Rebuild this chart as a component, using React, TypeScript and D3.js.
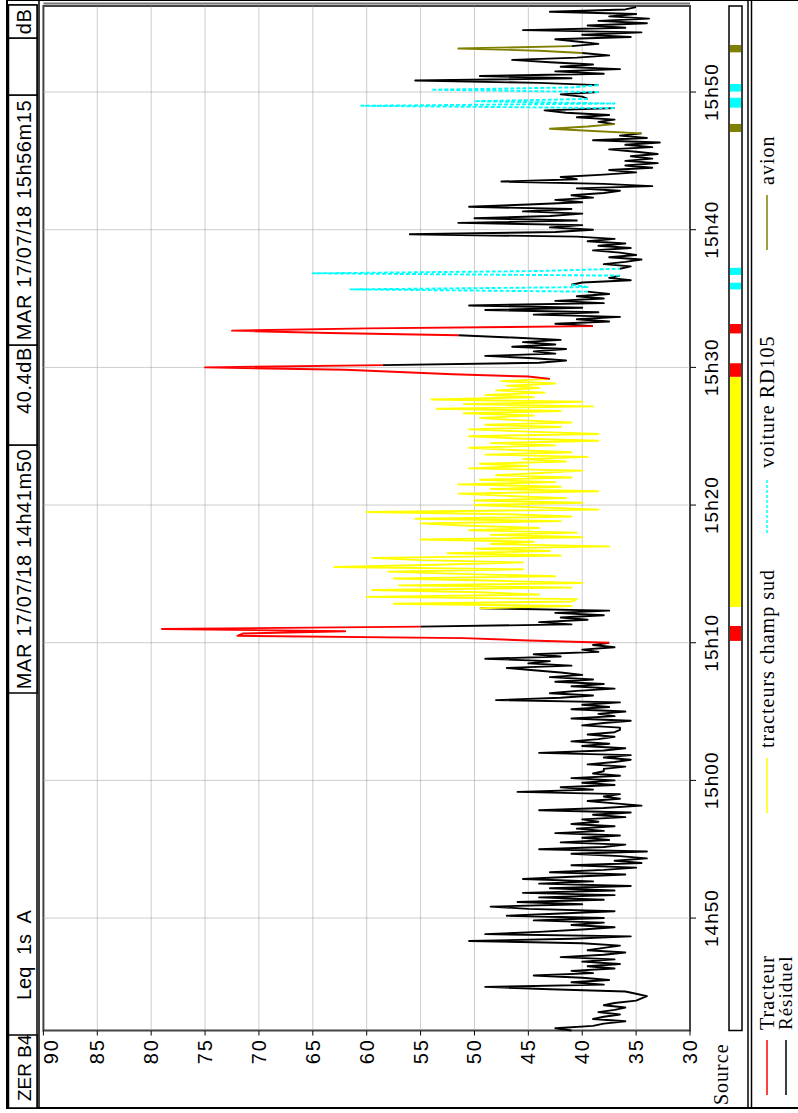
import React from 'react';
import * as d3 from 'd3';

// Leq 1s A, one value every 10 s from 14h41m50
const startTime = '14:41:50';
const endTime = '15:56:15';
const stepSeconds = 10;

const leq: number[] = [
	41, 42.5, 39, 38, 36, 39,
	38, 36.5, 38.5, 37, 36, 38,
	37, 35, 34.5, 34, 35, 36,
	43, 49, 38, 41, 37.5, 40,
	44.5, 39, 41, 37, 39.5, 36.5,
	40, 37, 42, 38, 36, 39.5,
	38, 36.5, 40, 50.5, 41, 35.5,
	49, 44, 40, 37, 41, 38,
	44.5, 38, 47, 42, 37, 45,
	48.5, 40, 46, 38, 44, 37,
	45.5, 37, 43, 35.5, 44, 39,
	45.5, 41, 36, 43, 38, 35,
	41, 34.5, 37, 34, 36.5, 41,
	34, 44, 38, 36, 42, 37.5,
	40, 36.5, 42.5, 38, 40.5, 37,
	41, 38.5, 40, 36, 39, 35.5,
	44, 38, 34.5, 37, 39.5, 36.5,
	38, 36.5, 46, 39, 42, 37,
	40, 37, 41, 36.5, 39, 38,
	38, 36, 39.5, 37, 35.5, 38,
	35.5, 44, 38, 36, 40, 37.5,
	41, 38.5, 37, 39.5, 37, 36.5,
	36.5, 40, 38, 35.5, 41, 37,
	38.5, 36, 41, 37.5, 40, 36.5,
	48, 42, 39, 43, 40.5, 37,
	41, 38, 42.5, 39, 43, 40,
	42, 44.5, 47, 41, 45, 43,
	49, 42, 44.5, 38.5, 40, 37,
	39, 37.5, 45, 51, 72, 71.5,
	62, 79, 55, 41, 44, 39.5,
	42, 38, 42.5, 37.5, 49.5, 41,
	57.5, 41, 40.5, 60, 44, 49.5,
	59.5, 41, 57, 40, 48, 57.5,
	42.5, 51.5, 58, 45.5, 63, 53.5,
	45.5, 55, 59.5, 42, 52.5, 43,
	50, 37.5, 48.5, 44.5, 55, 40,
	48.5, 40.5, 50.5, 44, 50.5, 55,
	42, 55.5, 41, 47, 60, 38.5,
	44, 50, 40, 50, 41.5, 47,
	51.5, 38.5, 48.5, 42, 51.5, 42.5,
	49.5, 41, 48, 44, 40, 50.5,
	45, 49.5, 41.5, 45.5, 39.5, 49,
	41, 46.5, 50.5, 42.5, 48.5, 38.5,
	46, 50.5, 38.5, 45, 50.5, 42,
	49, 41, 46, 49.5, 44.5, 51,
	42, 53.5, 39, 51, 40, 54,
	44.5, 49, 43.5, 48, 44, 47,
	42.5, 47.5, 43, 45, 52, 57,
	62, 75, 58.5, 44, 41.5, 44.5,
	49, 42.5, 44.5, 41.5, 46.5, 42.5,
	45.5, 42, 46.5, 51.5, 63.5, 72.5,
	60, 39, 42.5, 37.5, 40.5, 36.5,
	44.5, 38.5, 49, 40, 50.5, 38,
	42.5, 38, 40.5, 37.5, 39.5, 61.5,
	39.5, 41, 40, 35.5, 37.5, 36.5,
	65, 44, 36.5, 35.5, 38, 36,
	34.5, 37.5, 35, 36.5, 39, 35.5,
	38.5, 36, 39.5, 37, 40.5, 56,
	42.5, 39, 43, 40, 51.5, 40.5,
	50, 43, 40, 45.5, 41, 50.5,
	45, 40, 42.5, 39, 41, 38,
	36.5, 40.5, 33.5, 38, 47.5, 40.5,
	42, 38, 35, 37.5, 33.5, 36,
	33, 36, 33.5, 35.5, 33, 35,
	37.5, 33.5, 36, 32.8, 39, 34,
	36.5, 34.5, 39, 43, 39.5, 37,
	38.5, 37, 40.5, 37.5, 41.5, 43.5,
	37, 60.5, 37, 50, 39.5, 40,
	42, 38.5, 54, 41, 38.5, 44,
	55.5, 41, 49.5, 38, 42.5, 36.5,
	42, 39, 43, 46.5, 40.5, 37.5,
	40, 44, 51.5, 41, 38.5, 40.5,
	42.5, 35.5, 40, 34.5, 45.5, 36,
	39.5, 34, 38.5, 33.8, 37.5, 35,
	43, 36, 35,
];

// coded periods (source bar)
const periodSources = ['Tracteur', 'tracteurs champ sud', 'Tracteur', 'Tracteur', 'voiture RD105', 'voiture RD105', 'avion', 'voiture RD105', 'voiture RD105', 'avion'];
const periodStarts = ['15:10:08', '15:12:36', '15:29:19', '15:32:28', '15:35:40', '15:36:43', '15:47:06', '15:48:52', '15:50:02', '15:52:53'];
const periodEnds = ['15:11:13', '15:29:19', '15:30:18', '15:33:09', '15:36:09', '15:37:14', '15:47:41', '15:49:35', '15:50:35', '15:53:25'];

const sourceNames = ['Tracteur', 'Résiduel', 'tracteurs champ sud', 'voiture RD105', 'avion'];
const sourceColors = ['#ff0000', '#000000', '#ffff00', '#00ffff', '#808000'];

const timeTicks = ['14:50:00', '15:00:00', '15:10:00', '15:20:00', '15:30:00', '15:40:00', '15:50:00'];
const dbTicks = [90, 85, 80, 75, 70, 65, 60, 55, 50, 45, 40, 35, 30];

const SANS = 'Liberation Sans, Arial, sans-serif';
const SERIF = 'Liberation Serif, Times New Roman, serif';

const App: React.FC = () => {
	// the chart is drawn in its own frame (time left to right) and turned a quarter turn
	const W = 1113; // long side
	const H = 798;
	const plot = { left: 82.5, right: 1107, top: 43.4, bottom: 690 };

	const parse = d3.timeParse('%H:%M:%S');
	const t0 = parse(startTime) as Date;
	const t1 = parse(endTime) as Date;

	const x = d3.scaleTime().domain([t0, t1]).range([plot.left, plot.right]);
	const y = d3.scaleLinear().domain([30, 90]).range([plot.bottom, plot.top]);
	const fmt = d3.timeFormat('%Hh%M');

	const color = d3.scaleOrdinal<string, string>().domain(sourceNames).range(sourceColors);

	const periods = periodSources.map((s, i) => ({
		source: s,
		from: parse(periodStarts[i]) as Date,
		to: parse(periodEnds[i]) as Date,
	}));

	const pts = leq.map((v, i) => ({ t: new Date(+t0 + i * stepSeconds * 1000), v }));
	const srcOf = (t: Date) => {
		const p = periods.find((p) => t >= p.from && t <= p.to);
		return p ? p.source : 'Résiduel';
	};

	type Pt = { t: Date; v: number };
	const runs: { source: string; points: Pt[] }[] = [];
	pts.forEach((p, i) => {
		const s = srcOf(p.t);
		const last = runs[runs.length - 1];
		if (last && last.source === s) last.points.push(p);
		else runs.push({ source: s, points: i > 0 ? [pts[i - 1], p] : [p] });
	});

	const line = d3
		.line<Pt>()
		.x((d) => x(d.t))
		.y((d) => y(d.v));

	const legend = [
		{ name: 'Tracteur', u: 18, row: 0 },
		{ name: 'Résiduel', u: 18, row: 1 },
		{ name: 'tracteurs champ sud', u: 300, row: 0 },
		{ name: 'voiture RD105', u: 580, row: 0 },
		{ name: 'avion', u: 863, row: 0 },
	];

	const headerBoxes = [
		{ from: 5, to: 78, label: 'ZER B4', anchor: 'start' },
		{ from: 420, to: 668, label: 'MAR 17/07/18 14h41m50', anchor: 'middle' },
		{ from: 668, to: 768, label: '40.4dB', anchor: 'end' },
		{ from: 768, to: 1018, label: 'MAR 17/07/18 15h56m15', anchor: 'middle' },
		{ from: 1018, to: 1075, label: '', anchor: 'middle' },
		{ from: 1075, to: 1108, label: 'dB', anchor: 'middle' },
	];

	return (
		<svg
			width={H}
			height={W}
			style={{ position: 'absolute', left: 0, top: 0, background: '#fff' }}>
			<g transform={`translate(0,${W}) rotate(-90)`}>
				{/* outer frame */}
				<rect x={5} y={7} width={W - 5} height={H - 6} fill="none" stroke="#000" strokeWidth={2} />

				{/* header strip */}
				<rect x={5} y={8.5} width={1103} height={28.5} fill="#fff" stroke="#000" strokeWidth={1.5} />
				{headerBoxes.map((b, i) => (
					<g key={i}>
						<rect x={b.from} y={8.5} width={b.to - b.from} height={28.5} fill="#fff" stroke="#000" strokeWidth={1.5} />
						{b.label && (
							<text
								x={b.anchor === 'start' ? b.from + 7 : b.anchor === 'end' ? b.to - 2 : (b.from + b.to) / 2}
								y={31}
								textAnchor={b.anchor}
								fontFamily={SANS}
								fontSize={b.anchor === 'start' ? 19 : 20}
								letterSpacing={b.anchor === 'start' ? 0 : 0.6}>
								{b.label}
							</text>
						)}
					</g>
				))}
				<text x={113} y={31} fontFamily={SANS} fontSize={20} wordSpacing={6}>
					Leq 1s A
				</text>
				<line x1={5} x2={W} y1={39} y2={39} stroke="#000" strokeWidth={1.5} />

				{/* plot */}
				<rect
					x={plot.left}
					y={plot.top}
					width={plot.right - plot.left}
					height={plot.bottom - plot.top}
					fill="#fff"
					stroke="#444"
					strokeWidth={2}
				/>
				<line x1={plot.right + 2.5} x2={plot.right + 2.5} y1={plot.top} y2={plot.bottom} stroke="#777" strokeWidth={2} />
				{dbTicks.slice(1, -1).map((d) => (
					<line key={d} x1={plot.left} x2={plot.right} y1={y(d)} y2={y(d)} stroke="#999" strokeDasharray="1,1" />
				))}
				{timeTicks.map((s) => {
					const t = parse(s) as Date;
					return <line key={s} x1={x(t)} x2={x(t)} y1={plot.top} y2={plot.bottom} stroke="#999" strokeDasharray="1,1" />;
				})}

				{/* traces: residual first, coded sources on top */}
				{[...runs.filter((r) => r.source === 'Résiduel'), ...runs.filter((r) => r.source !== 'Résiduel')].map((r, i) => (
					<path
						key={i}
						d={line(r.points) ?? ''}
						fill="none"
						stroke={color(r.source)}
						strokeWidth={1.9}
						strokeLinejoin="round"
						strokeDasharray={r.source === 'voiture RD105' ? '4,2' : undefined}
					/>
				))}

				{/* dB axis */}
				{dbTicks.map((d) => (
					<g key={d}>
						<line x1={plot.left - 5} x2={plot.left} y1={y(d)} y2={y(d)} stroke="#000" />
						<text
							x={75}
							y={Math.max(y(d), plot.top + 8)}
							textAnchor="end"
							dominantBaseline="central"
							fontFamily={SANS}
							fontSize={20}
							letterSpacing={2}>
							{d}
						</text>
					</g>
				))}

				{/* time axis */}
				{timeTicks.map((s) => {
					const t = parse(s) as Date;
					return (
						<g key={s}>
							<line x1={x(t)} x2={x(t)} y1={plot.bottom} y2={plot.bottom + 6} stroke="#000" />
							<text x={x(t)} y={718} textAnchor="middle" fontFamily={SANS} fontSize={19} letterSpacing={1}>
								{fmt(t)}
							</text>
						</g>
					);
				})}

				{/* source bar */}
				<text x={8} y={728} fontFamily={SERIF} fontSize={20} letterSpacing={1}>
					Source
				</text>
				<rect x={plot.left} y={729} width={plot.right - plot.left} height={13} fill="#fff" stroke="#000" strokeWidth={1.5} />
				{periods.map((p, i) => (
					<rect key={i} x={x(p.from)} y={730} width={x(p.to) - x(p.from)} height={11} fill={color(p.source)} />
				))}

				{/* legend */}
				<line x1={5} x2={W} y1={748} y2={748} stroke="#000" strokeWidth={1.5} />
				<line x1={5} x2={W} y1={751.5} y2={751.5} stroke="#000" strokeWidth={1.5} />
				{legend.map((l) => {
					const v = l.row === 0 ? 767 : 786;
					return (
						<g key={l.name}>
							<line
								x1={l.u}
								x2={l.u + 55}
								y1={v}
								y2={v}
								stroke={color(l.name)}
								strokeWidth={1.5}
								strokeDasharray={l.name === 'voiture RD105' ? '3,2' : undefined}
							/>
							<text x={l.u + 65} y={v + (l.row === 0 ? 7 : 6)} fontFamily={SERIF} fontSize={l.row === 0 ? 20 : 19} letterSpacing={1}>
								{l.name}
							</text>
						</g>
					);
				})}
			</g>
		</svg>
	);
};

export default App;
